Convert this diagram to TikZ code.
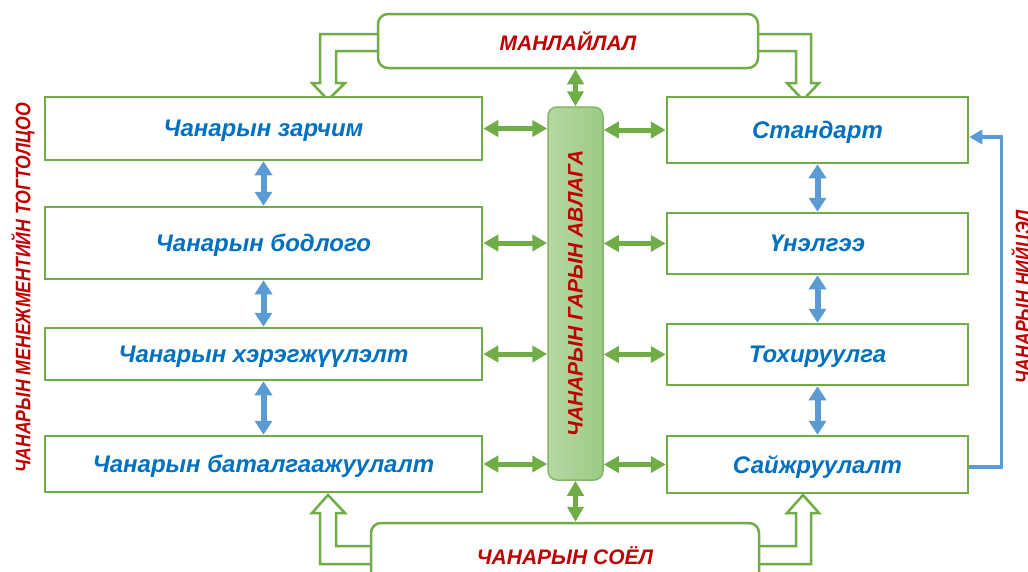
\documentclass[tikz,border=0pt]{standalone}
\usepackage{fontspec}
\setmainfont{Liberation Sans}
\usetikzlibrary{arrows.meta,positioning,calc}
\definecolor{grn}{HTML}{70AD47}
\definecolor{bluet}{HTML}{0070C0}
\definecolor{redt}{HTML}{C00000}
\definecolor{bluea}{HTML}{5B9BD5}
\definecolor{barl}{HTML}{B7D8A3}
\definecolor{barr}{HTML}{9CCA85}
\definecolor{barb}{HTML}{82B864}
\newcommand{\narrowtext}[1]{\scalebox{0.84}[1]{#1}}
\begin{document}
\begin{tikzpicture}[x=1pt,y=-1pt,
  box/.style={draw=grn,line width=2.5pt,fill=white,inner sep=0pt,text depth=0pt,
    font=\fontsize{24}{27}\selectfont\bfseries\itshape,text=bluet},
  rbox/.style={box,rounded corners=10pt,text=redt,font=\fontsize{21}{24}\selectfont\bfseries\itshape},
  hollow/.style={draw=grn,line width=2.5pt,fill=white,line join=miter},
  garr/.style={draw=grn,line width=5pt,{Triangle[width=16pt,length=15pt]}-{Triangle[width=16pt,length=15pt]}},
  barr/.style={draw=bluea,line width=6pt,{Triangle[width=17pt,length=14pt]}-{Triangle[width=17pt,length=14pt]}},
  fbarr/.style={draw=bluea,line width=3.5pt,-{Triangle[width=14pt,length=13pt]}},
  side/.style={text=redt,font=\fontsize{21}{24}\selectfont\bfseries\itshape,rotate=90}
]
\useasboundingbox (0,0) rectangle (1028,571);
\fill[white] (0,0) rectangle (1028,571);
% hollow block arrows
\draw[hollow] (390,34) -- (320,34) -- (320,83) -- (312,83) -- (328,100) -- (345,83) -- (336,83) -- (336,51) -- (390,51) -- cycle;
\draw[hollow] (745,34) -- (811,34) -- (811,83) -- (819,83) -- (803,100) -- (787,83) -- (796,83) -- (796,51) -- (745,51) -- cycle;
\draw[hollow] (385,564) -- (320,564) -- (320,513) -- (312,513) -- (328,495) -- (345,513) -- (336,513) -- (336,546) -- (385,546) -- cycle;
\draw[hollow] (745,564) -- (811,564) -- (811,513) -- (819,513) -- (803,495) -- (787,513) -- (796,513) -- (796,546) -- (745,546) -- cycle;
% boxes
\node[rbox,minimum width=380pt,minimum height=54pt] (top) at (568,41) {МАНЛАЙЛАЛ};
\node[rbox,minimum width=388pt,minimum height=66pt] (bot) at (565,556) {ЧАНАРЫН СОЁЛ};
\node[box,minimum width=437pt,minimum height=63pt] (L1) at (263.5,128.5) {Чанарын зарчим};
\node[box,minimum width=437pt,minimum height=72pt] (L2) at (263.5,243) {Чанарын бодлого};
\node[box,minimum width=437pt,minimum height=52pt] (L3) at (263.5,354) {Чанарын хэрэгжүүлэлт};
\node[box,minimum width=437pt,minimum height=56pt] (L4) at (263.5,464) {Чанарын баталгаажуулалт};
\node[box,minimum width=301pt,minimum height=66pt] (R1) at (817.5,130) {Стандарт};
\node[box,minimum width=301pt,minimum height=61pt] (R2) at (817.5,243.5) {Үнэлгээ};
\node[box,minimum width=301pt,minimum height=61pt] (R3) at (817.5,354.5) {Тохируулга};
\node[box,minimum width=301pt,minimum height=57pt] (R4) at (817.5,464.5) {Сайжруулалт};
\node[draw=barb,line width=1.5pt,rounded corners=9pt,left color=barl,right color=barr,
  minimum width=55pt,minimum height=373pt,inner sep=0pt] (bar) at (575.5,293.5) {};
\node[side] (bartext) at (bar.center) {ЧАНАРЫН ГАРЫН АВЛАГА};
\node[side] (lside) at (23,288) {\narrowtext{ЧАНАРЫН МЕНЕЖМЕНТИЙН ТОГТОЛЦОО}};
\node[side] (rside) at (1023,297) {\narrowtext{ЧАНАРЫН НИЙЦЭЛ}};
% green arrows
\foreach \b in {L1,L2,L3,L4}{\draw[garr] (\b.east) -- (\b.east -| bar.west);}
\foreach \b in {R1,R2,R3,R4}{\draw[garr] (\b.west -| bar.east) -- (\b.west);}
\draw[garr] (top.south -| bar.north) -- (bar.north);
\draw[garr] (bar.south) -- (bot.north -| bar.south);
% blue arrows
\draw[barr] (L1.south) -- (L2.north);
\draw[barr] (L2.south) -- (L3.north);
\draw[barr] (L3.south) -- (L4.north);
\draw[barr] (R1.south) -- (R2.north);
\draw[barr] (R2.south) -- (R3.north);
\draw[barr] (R3.south) -- (R4.north);
\draw[fbarr] ([yshift=-2.5pt]R4.east) -- ++(32,0) |- ([yshift=-7pt]R1.east);
\end{tikzpicture}
\end{document}
